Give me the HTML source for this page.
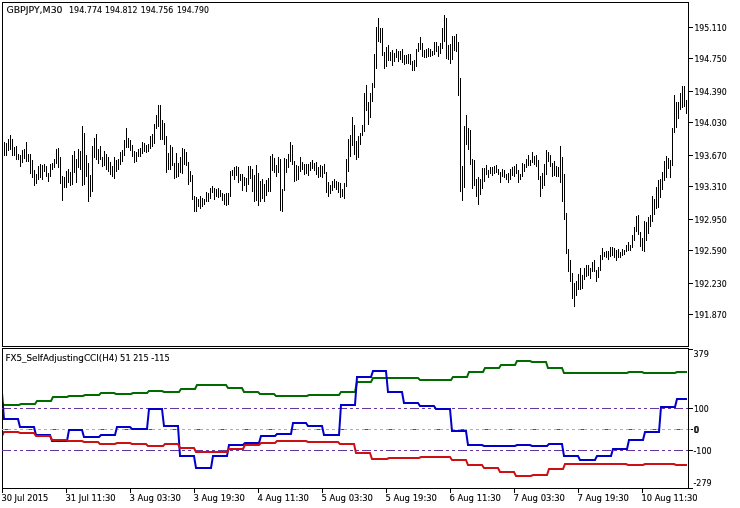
<!DOCTYPE html>
<html><head><meta charset="utf-8"><title>GBPJPY,M30</title>
<style>
html,body{margin:0;padding:0;background:#fff;width:740px;height:508px;overflow:hidden}
svg{display:block}
.t{font-family:'DejaVu Sans', 'Liberation Sans', sans-serif;font-size:9.2px;fill:#000;stroke:#000;stroke-width:0.12px}
</style></head><body>
<svg width="740" height="508" viewBox="0 0 740 508">
<rect width="740" height="508" fill="#fff"/>
<g fill="#000" shape-rendering="crispEdges"><rect x="2" y="2" width="687" height="1"/><rect x="2" y="346" width="687" height="1"/><rect x="2" y="2" width="1" height="345"/><rect x="688" y="2" width="1" height="345"/><rect x="2" y="348" width="687" height="1"/><rect x="2" y="488" width="687" height="1"/><rect x="2" y="348" width="1" height="141"/><rect x="688" y="348" width="1" height="141"/><rect x="689" y="27" width="4" height="1"/><rect x="689" y="58" width="4" height="1"/><rect x="689" y="91" width="4" height="1"/><rect x="689" y="122" width="4" height="1"/><rect x="689" y="155" width="4" height="1"/><rect x="689" y="186" width="4" height="1"/><rect x="689" y="219" width="4" height="1"/><rect x="689" y="250" width="4" height="1"/><rect x="689" y="283" width="4" height="1"/><rect x="689" y="314" width="4" height="1"/><rect x="689" y="349" width="4" height="1"/><rect x="689" y="408" width="4" height="1"/><rect x="689" y="450" width="4" height="1"/><rect x="689" y="488" width="4" height="1"/><rect x="691" y="429" width="2" height="1"/><rect x="689" y="429" width="2" height="1" fill="#b8b8b8"/><rect x="2" y="489" width="1" height="4"/><rect x="66" y="489" width="1" height="4"/><rect x="130" y="489" width="1" height="4"/><rect x="194" y="489" width="1" height="4"/><rect x="258" y="489" width="1" height="4"/><rect x="322" y="489" width="1" height="4"/><rect x="386" y="489" width="1" height="4"/><rect x="450" y="489" width="1" height="4"/><rect x="514" y="489" width="1" height="4"/><rect x="578" y="489" width="1" height="4"/><rect x="642" y="489" width="1" height="4"/><rect x="4" y="142" width="1" height="14"/><rect x="6" y="143" width="1" height="13"/><rect x="8" y="139" width="1" height="12"/><rect x="10" y="135" width="1" height="15"/><rect x="12" y="139" width="1" height="17"/><rect x="14" y="147" width="1" height="9"/><rect x="16" y="146" width="1" height="14"/><rect x="18" y="154" width="1" height="6"/><rect x="20" y="155" width="1" height="12"/><rect x="22" y="150" width="1" height="13"/><rect x="24" y="149" width="1" height="10"/><rect x="26" y="142" width="1" height="20"/><rect x="28" y="154" width="1" height="8"/><rect x="30" y="154" width="1" height="20"/><rect x="32" y="160" width="1" height="18"/><rect x="34" y="170" width="1" height="16"/><rect x="36" y="174" width="1" height="10"/><rect x="38" y="166" width="1" height="14"/><rect x="40" y="164" width="1" height="14"/><rect x="42" y="165" width="1" height="15"/><rect x="44" y="164" width="1" height="8"/><rect x="46" y="166" width="1" height="11"/><rect x="48" y="173" width="1" height="9"/><rect x="50" y="164" width="1" height="13"/><rect x="52" y="163" width="1" height="7"/><rect x="54" y="159" width="1" height="9"/><rect x="56" y="149" width="1" height="15"/><rect x="58" y="148" width="1" height="20"/><rect x="60" y="157" width="1" height="27"/><rect x="62" y="176" width="1" height="25"/><rect x="64" y="177" width="1" height="11"/><rect x="66" y="171" width="1" height="17"/><rect x="68" y="169" width="1" height="14"/><rect x="70" y="172" width="1" height="14"/><rect x="72" y="155" width="1" height="30"/><rect x="74" y="151" width="1" height="22"/><rect x="76" y="159" width="1" height="24"/><rect x="78" y="149" width="1" height="19"/><rect x="80" y="151" width="1" height="19"/><rect x="82" y="126" width="1" height="60"/><rect x="84" y="133" width="1" height="52"/><rect x="86" y="155" width="1" height="22"/><rect x="88" y="163" width="1" height="39"/><rect x="90" y="175" width="1" height="22"/><rect x="92" y="146" width="1" height="46"/><rect x="94" y="138" width="1" height="20"/><rect x="96" y="134" width="1" height="26"/><rect x="98" y="149" width="1" height="15"/><rect x="100" y="146" width="1" height="14"/><rect x="102" y="157" width="1" height="10"/><rect x="104" y="151" width="1" height="15"/><rect x="106" y="154" width="1" height="16"/><rect x="108" y="157" width="1" height="15"/><rect x="110" y="162" width="1" height="13"/><rect x="112" y="166" width="1" height="11"/><rect x="114" y="157" width="1" height="22"/><rect x="116" y="160" width="1" height="12"/><rect x="118" y="159" width="1" height="11"/><rect x="120" y="152" width="1" height="13"/><rect x="122" y="150" width="1" height="12"/><rect x="124" y="140" width="1" height="16"/><rect x="126" y="128" width="1" height="20"/><rect x="128" y="138" width="1" height="10"/><rect x="130" y="140" width="1" height="11"/><rect x="132" y="145" width="1" height="12"/><rect x="134" y="151" width="1" height="12"/><rect x="136" y="152" width="1" height="10"/><rect x="138" y="149" width="1" height="8"/><rect x="140" y="148" width="1" height="9"/><rect x="142" y="142" width="1" height="12"/><rect x="144" y="143" width="1" height="9"/><rect x="146" y="145" width="1" height="8"/><rect x="148" y="144" width="1" height="8"/><rect x="150" y="136" width="1" height="13"/><rect x="152" y="134" width="1" height="13"/><rect x="154" y="124" width="1" height="20"/><rect x="156" y="115" width="1" height="14"/><rect x="158" y="105" width="1" height="22"/><rect x="160" y="105" width="1" height="35"/><rect x="162" y="120" width="1" height="20"/><rect x="164" y="123" width="1" height="22"/><rect x="166" y="136" width="1" height="37"/><rect x="168" y="153" width="1" height="17"/><rect x="170" y="145" width="1" height="25"/><rect x="172" y="147" width="1" height="19"/><rect x="174" y="163" width="1" height="16"/><rect x="176" y="153" width="1" height="25"/><rect x="178" y="163" width="1" height="14"/><rect x="180" y="157" width="1" height="16"/><rect x="182" y="148" width="1" height="26"/><rect x="184" y="149" width="1" height="16"/><rect x="186" y="152" width="1" height="14"/><rect x="188" y="162" width="1" height="23"/><rect x="190" y="171" width="1" height="11"/><rect x="192" y="175" width="1" height="25"/><rect x="194" y="196" width="1" height="16"/><rect x="196" y="197" width="1" height="15"/><rect x="198" y="199" width="1" height="8"/><rect x="200" y="196" width="1" height="13"/><rect x="202" y="198" width="1" height="9"/><rect x="204" y="199" width="1" height="6"/><rect x="206" y="192" width="1" height="10"/><rect x="208" y="193" width="1" height="9"/><rect x="210" y="188" width="1" height="11"/><rect x="212" y="186" width="1" height="7"/><rect x="214" y="188" width="1" height="12"/><rect x="216" y="189" width="1" height="8"/><rect x="218" y="188" width="1" height="10"/><rect x="220" y="190" width="1" height="7"/><rect x="222" y="193" width="1" height="8"/><rect x="224" y="194" width="1" height="11"/><rect x="226" y="193" width="1" height="13"/><rect x="228" y="193" width="1" height="12"/><rect x="230" y="171" width="1" height="26"/><rect x="232" y="170" width="1" height="6"/><rect x="234" y="167" width="1" height="13"/><rect x="236" y="166" width="1" height="10"/><rect x="238" y="167" width="1" height="16"/><rect x="240" y="174" width="1" height="7"/><rect x="242" y="174" width="1" height="17"/><rect x="244" y="177" width="1" height="9"/><rect x="246" y="178" width="1" height="14"/><rect x="248" y="166" width="1" height="19"/><rect x="250" y="166" width="1" height="13"/><rect x="252" y="169" width="1" height="23"/><rect x="254" y="175" width="1" height="27"/><rect x="256" y="165" width="1" height="36"/><rect x="258" y="173" width="1" height="33"/><rect x="260" y="181" width="1" height="21"/><rect x="262" y="179" width="1" height="20"/><rect x="264" y="184" width="1" height="18"/><rect x="266" y="180" width="1" height="16"/><rect x="268" y="178" width="1" height="14"/><rect x="270" y="156" width="1" height="36"/><rect x="272" y="154" width="1" height="17"/><rect x="274" y="158" width="1" height="15"/><rect x="276" y="165" width="1" height="12"/><rect x="278" y="157" width="1" height="16"/><rect x="280" y="159" width="1" height="52"/><rect x="282" y="189" width="1" height="23"/><rect x="284" y="158" width="1" height="33"/><rect x="286" y="159" width="1" height="14"/><rect x="288" y="154" width="1" height="14"/><rect x="290" y="142" width="1" height="20"/><rect x="292" y="145" width="1" height="20"/><rect x="294" y="161" width="1" height="21"/><rect x="296" y="165" width="1" height="16"/><rect x="298" y="166" width="1" height="14"/><rect x="300" y="157" width="1" height="15"/><rect x="302" y="162" width="1" height="8"/><rect x="304" y="164" width="1" height="11"/><rect x="306" y="164" width="1" height="10"/><rect x="308" y="164" width="1" height="12"/><rect x="310" y="162" width="1" height="9"/><rect x="312" y="160" width="1" height="9"/><rect x="314" y="163" width="1" height="8"/><rect x="316" y="162" width="1" height="13"/><rect x="318" y="167" width="1" height="11"/><rect x="320" y="165" width="1" height="12"/><rect x="322" y="166" width="1" height="12"/><rect x="324" y="164" width="1" height="10"/><rect x="326" y="172" width="1" height="21"/><rect x="328" y="182" width="1" height="15"/><rect x="330" y="185" width="1" height="9"/><rect x="332" y="181" width="1" height="10"/><rect x="334" y="179" width="1" height="9"/><rect x="336" y="181" width="1" height="9"/><rect x="338" y="182" width="1" height="11"/><rect x="340" y="183" width="1" height="15"/><rect x="342" y="189" width="1" height="8"/><rect x="344" y="183" width="1" height="16"/><rect x="346" y="159" width="1" height="28"/><rect x="348" y="139" width="1" height="33"/><rect x="350" y="135" width="1" height="22"/><rect x="352" y="117" width="1" height="29"/><rect x="354" y="125" width="1" height="30"/><rect x="356" y="141" width="1" height="19"/><rect x="358" y="136" width="1" height="22"/><rect x="360" y="133" width="1" height="12"/><rect x="362" y="125" width="1" height="11"/><rect x="364" y="93" width="1" height="39"/><rect x="366" y="85" width="1" height="26"/><rect x="368" y="102" width="1" height="23"/><rect x="370" y="93" width="1" height="25"/><rect x="372" y="83" width="1" height="19"/><rect x="374" y="54" width="1" height="34"/><rect x="376" y="27" width="1" height="42"/><rect x="378" y="18" width="1" height="24"/><rect x="380" y="28" width="1" height="15"/><rect x="382" y="28" width="1" height="28"/><rect x="384" y="52" width="1" height="17"/><rect x="386" y="47" width="1" height="20"/><rect x="388" y="45" width="1" height="16"/><rect x="390" y="52" width="1" height="9"/><rect x="392" y="50" width="1" height="16"/><rect x="394" y="53" width="1" height="9"/><rect x="396" y="49" width="1" height="9"/><rect x="398" y="51" width="1" height="11"/><rect x="400" y="51" width="1" height="9"/><rect x="402" y="49" width="1" height="14"/><rect x="404" y="55" width="1" height="10"/><rect x="406" y="55" width="1" height="9"/><rect x="408" y="54" width="1" height="10"/><rect x="410" y="54" width="1" height="11"/><rect x="412" y="61" width="1" height="10"/><rect x="414" y="60" width="1" height="11"/><rect x="416" y="49" width="1" height="18"/><rect x="418" y="43" width="1" height="9"/><rect x="420" y="37" width="1" height="13"/><rect x="422" y="43" width="1" height="14"/><rect x="424" y="50" width="1" height="8"/><rect x="426" y="49" width="1" height="9"/><rect x="428" y="48" width="1" height="9"/><rect x="430" y="49" width="1" height="8"/><rect x="432" y="51" width="1" height="5"/><rect x="434" y="42" width="1" height="13"/><rect x="436" y="42" width="1" height="10"/><rect x="438" y="46" width="1" height="11"/><rect x="440" y="43" width="1" height="11"/><rect x="442" y="28" width="1" height="21"/><rect x="444" y="15" width="1" height="27"/><rect x="446" y="18" width="1" height="41"/><rect x="448" y="45" width="1" height="15"/><rect x="450" y="44" width="1" height="20"/><rect x="452" y="36" width="1" height="24"/><rect x="454" y="36" width="1" height="15"/><rect x="456" y="34" width="1" height="18"/><rect x="458" y="42" width="1" height="54"/><rect x="460" y="78" width="1" height="114"/><rect x="462" y="166" width="1" height="35"/><rect x="464" y="126" width="1" height="62"/><rect x="466" y="115" width="1" height="30"/><rect x="468" y="128" width="1" height="22"/><rect x="470" y="130" width="1" height="35"/><rect x="472" y="159" width="1" height="30"/><rect x="474" y="160" width="1" height="26"/><rect x="476" y="179" width="1" height="18"/><rect x="478" y="177" width="1" height="28"/><rect x="480" y="179" width="1" height="16"/><rect x="482" y="168" width="1" height="21"/><rect x="484" y="168" width="1" height="14"/><rect x="486" y="165" width="1" height="10"/><rect x="488" y="170" width="1" height="8"/><rect x="490" y="167" width="1" height="7"/><rect x="492" y="167" width="1" height="9"/><rect x="494" y="166" width="1" height="8"/><rect x="496" y="165" width="1" height="8"/><rect x="498" y="169" width="1" height="6"/><rect x="500" y="172" width="1" height="11"/><rect x="502" y="169" width="1" height="8"/><rect x="504" y="170" width="1" height="8"/><rect x="506" y="174" width="1" height="6"/><rect x="508" y="173" width="1" height="10"/><rect x="510" y="169" width="1" height="11"/><rect x="512" y="167" width="1" height="9"/><rect x="514" y="166" width="1" height="11"/><rect x="516" y="164" width="1" height="10"/><rect x="518" y="170" width="1" height="13"/><rect x="520" y="174" width="1" height="6"/><rect x="522" y="163" width="1" height="14"/><rect x="524" y="164" width="1" height="8"/><rect x="526" y="159" width="1" height="9"/><rect x="528" y="155" width="1" height="11"/><rect x="530" y="160" width="1" height="6"/><rect x="532" y="152" width="1" height="11"/><rect x="534" y="156" width="1" height="9"/><rect x="536" y="155" width="1" height="12"/><rect x="538" y="160" width="1" height="20"/><rect x="540" y="176" width="1" height="21"/><rect x="542" y="173" width="1" height="16"/><rect x="544" y="164" width="1" height="22"/><rect x="546" y="150" width="1" height="25"/><rect x="548" y="152" width="1" height="10"/><rect x="550" y="155" width="1" height="12"/><rect x="552" y="163" width="1" height="14"/><rect x="554" y="161" width="1" height="15"/><rect x="556" y="166" width="1" height="11"/><rect x="558" y="167" width="1" height="10"/><rect x="560" y="146" width="1" height="37"/><rect x="562" y="157" width="1" height="45"/><rect x="564" y="174" width="1" height="46"/><rect x="566" y="213" width="1" height="41"/><rect x="568" y="249" width="1" height="23"/><rect x="570" y="260" width="1" height="22"/><rect x="572" y="273" width="1" height="26"/><rect x="574" y="283" width="1" height="24"/><rect x="576" y="281" width="1" height="15"/><rect x="578" y="274" width="1" height="16"/><rect x="580" y="268" width="1" height="22"/><rect x="582" y="275" width="1" height="14"/><rect x="584" y="268" width="1" height="12"/><rect x="586" y="265" width="1" height="12"/><rect x="588" y="265" width="1" height="11"/><rect x="590" y="268" width="1" height="11"/><rect x="592" y="262" width="1" height="10"/><rect x="594" y="260" width="1" height="12"/><rect x="596" y="270" width="1" height="12"/><rect x="598" y="267" width="1" height="11"/><rect x="600" y="255" width="1" height="16"/><rect x="602" y="248" width="1" height="12"/><rect x="604" y="252" width="1" height="5"/><rect x="606" y="251" width="1" height="7"/><rect x="608" y="251" width="1" height="9"/><rect x="610" y="247" width="1" height="10"/><rect x="612" y="247" width="1" height="9"/><rect x="614" y="248" width="1" height="10"/><rect x="616" y="250" width="1" height="11"/><rect x="618" y="249" width="1" height="9"/><rect x="620" y="252" width="1" height="6"/><rect x="622" y="249" width="1" height="7"/><rect x="624" y="250" width="1" height="5"/><rect x="626" y="245" width="1" height="7"/><rect x="628" y="242" width="1" height="9"/><rect x="630" y="245" width="1" height="6"/><rect x="632" y="235" width="1" height="13"/><rect x="634" y="227" width="1" height="14"/><rect x="636" y="216" width="1" height="16"/><rect x="638" y="215" width="1" height="20"/><rect x="640" y="232" width="1" height="15"/><rect x="642" y="238" width="1" height="13"/><rect x="644" y="221" width="1" height="31"/><rect x="646" y="222" width="1" height="19"/><rect x="648" y="217" width="1" height="17"/><rect x="650" y="215" width="1" height="12"/><rect x="652" y="196" width="1" height="26"/><rect x="654" y="199" width="1" height="16"/><rect x="656" y="187" width="1" height="22"/><rect x="658" y="180" width="1" height="28"/><rect x="660" y="179" width="1" height="19"/><rect x="662" y="172" width="1" height="18"/><rect x="664" y="161" width="1" height="20"/><rect x="666" y="156" width="1" height="22"/><rect x="668" y="158" width="1" height="11"/><rect x="670" y="160" width="1" height="18"/><rect x="672" y="128" width="1" height="38"/><rect x="674" y="95" width="1" height="38"/><rect x="676" y="102" width="1" height="26"/><rect x="678" y="102" width="1" height="17"/><rect x="680" y="93" width="1" height="17"/><rect x="682" y="86" width="1" height="22"/><rect x="684" y="86" width="1" height="21"/><rect x="686" y="100" width="1" height="14"/></g>
<g shape-rendering="crispEdges" stroke-width="1" fill="none"><line x1="2" y1="408.5" x2="688" y2="408.5" stroke="#6438a0" stroke-dasharray="9 3 3 3 3 3"/><line x1="2" y1="450.5" x2="688" y2="450.5" stroke="#6438a0" stroke-dasharray="9 3 3 3 3 3"/><line x1="2" y1="429.5" x2="688" y2="429.5" stroke="#b0b0b0" stroke-dasharray="9 3 3 3 3 3"/><line x1="5" y1="429.5" x2="688" y2="429.5" stroke="#6438a0" stroke-dasharray="3 21"/></g>
<svg x="3" y="349" width="685" height="139" viewBox="3 349 685 139" overflow="hidden"><polyline points="2,403 4,405 19,405 21,404 35,404 37,401 51,401 53,397 67,397 69,396 83,396 85,395 99,395 101,393 114,393 116,394 131,394 133,393 147,393 149,391 162,391 164,392 179,392 181,389 195,389 197,385 210,385 212,385 226,385 228,388 242,388 244,392 258,392 260,394 274,394 276,396 290,396 292,396 307,396 309,395 322,395 324,395 339,395 341,392 355,392 357,382 371,382 373,378 386,378 388,378 402,378 404,378 418,378 420,380 434,380 436,380 451,380 453,377 467,377 469,372 483,372 485,368 499,368 501,365 515,365 517,361 530,361 532,362 546,362 548,368 562,368 564,373 578,373 580,373 594,373 596,373 610,373 612,373 627,373 629,372 642,372 644,373 658,373 660,373 675,373 677,372 687,372" fill="none" stroke="#006c00" stroke-width="2" stroke-linejoin="miter" stroke-linecap="butt"/><polyline points="2,393 4,419 18,419 20,427 34,427 36,435 50,435 52,441 67,441 69,430 82,430 84,437 99,437 101,435 115,435 117,427 130,427 132,429 147,429 149,409 162,409 164,426 178,426 180,456 194,456 196,468 211,468 213,456 227,456 229,445 243,445 245,443 259,443 261,436 275,436 277,434 291,434 293,423 306,423 308,426 322,426 324,435 339,435 341,405 355,405 357,377 371,377 373,371 386,371 388,392 402,392 404,403 418,403 420,406 434,406 436,409 450,409 452,431 466,431 468,445 482,445 484,446 498,446 500,446 515,446 517,445 530,445 532,446 547,446 549,444 562,444 564,456 578,456 580,460 595,460 597,456 611,456 613,449 627,449 629,440 643,440 645,432 659,432 661,407 675,407 677,399 687,399" fill="none" stroke="#0000c8" stroke-width="2" stroke-linejoin="miter" stroke-linecap="butt"/><polyline points="2,436 4,432 18,432 20,433 34,433 36,436 50,436 52,440 66,440 68,441 82,441 84,442 98,442 100,444 115,444 117,443 130,443 132,444 146,444 148,446 163,446 165,444 178,444 180,448 194,448 196,452 210,452 212,452 227,452 229,449 243,449 245,445 259,445 261,443 275,443 277,441 290,441 292,441 306,441 308,442 322,442 324,442 338,442 340,444 354,444 356,453 370,453 372,459 387,459 389,458 402,458 404,458 419,458 421,457 434,457 436,457 450,457 452,460 466,460 468,465 482,465 484,468 498,468 500,472 514,472 516,476 531,476 533,475 547,475 549,469 563,469 565,464 578,464 580,464 594,464 596,464 610,464 612,464 626,464 628,465 643,465 645,464 658,464 660,464 674,464 676,465 687,465" fill="none" stroke="#cc1014" stroke-width="2" stroke-linejoin="miter" stroke-linecap="butt"/></svg>
<text class="t" x="6.40" y="13" textLength="56.20" lengthAdjust="spacingAndGlyphs">GBPJPY,M30</text><text class="t" x="69.00" y="13" textLength="33.10" lengthAdjust="spacingAndGlyphs">194.774</text><text class="t" x="105.10" y="13" textLength="32.50" lengthAdjust="spacingAndGlyphs">194.812</text><text class="t" x="140.70" y="13" textLength="32.50" lengthAdjust="spacingAndGlyphs">194.756</text><text class="t" x="176.90" y="13" textLength="32.00" lengthAdjust="spacingAndGlyphs">194.790</text><text class="t" x="694.40" y="31" textLength="32.20" lengthAdjust="spacingAndGlyphs">195.110</text><text class="t" x="694.40" y="62" textLength="32.20" lengthAdjust="spacingAndGlyphs">194.750</text><text class="t" x="694.40" y="95" textLength="32.20" lengthAdjust="spacingAndGlyphs">194.390</text><text class="t" x="694.40" y="126" textLength="32.20" lengthAdjust="spacingAndGlyphs">194.030</text><text class="t" x="694.40" y="159" textLength="32.20" lengthAdjust="spacingAndGlyphs">193.670</text><text class="t" x="694.40" y="190" textLength="32.20" lengthAdjust="spacingAndGlyphs">193.310</text><text class="t" x="694.40" y="223" textLength="32.20" lengthAdjust="spacingAndGlyphs">192.950</text><text class="t" x="694.40" y="254" textLength="32.20" lengthAdjust="spacingAndGlyphs">192.590</text><text class="t" x="694.40" y="287" textLength="32.20" lengthAdjust="spacingAndGlyphs">192.230</text><text class="t" x="694.40" y="318" textLength="32.20" lengthAdjust="spacingAndGlyphs">191.870</text><text class="t" x="693.40" y="357" textLength="15.40" lengthAdjust="spacingAndGlyphs">379</text><text class="t" x="693.90" y="412" textLength="14.80" lengthAdjust="spacingAndGlyphs">100</text><text class="t" x="693.40" y="433" textLength="4.80" lengthAdjust="spacingAndGlyphs">0</text><text class="t" x="694.40" y="433" textLength="4.80" lengthAdjust="spacingAndGlyphs">0</text><text class="t" x="693.40" y="454" textLength="18.20" lengthAdjust="spacingAndGlyphs">-100</text><text class="t" x="693.40" y="486" textLength="18.20" lengthAdjust="spacingAndGlyphs">-279</text><text class="t" x="5.40" y="361" textLength="112.40" lengthAdjust="spacingAndGlyphs">FX5_SelfAdjustingCCI(H4)</text><text class="t" x="120.10" y="361" textLength="10.60" lengthAdjust="spacingAndGlyphs">51</text><text class="t" x="133.20" y="361" textLength="15.40" lengthAdjust="spacingAndGlyphs">215</text><text class="t" x="151.20" y="361" textLength="18.60" lengthAdjust="spacingAndGlyphs">-115</text><text class="t" x="1.40" y="501" textLength="47.00" lengthAdjust="spacingAndGlyphs">30 Jul 2015</text><text class="t" x="65.40" y="501" textLength="50.30" lengthAdjust="spacingAndGlyphs">31 Jul 11:30</text><text class="t" x="129.40" y="501" textLength="51.60" lengthAdjust="spacingAndGlyphs">3 Aug 03:30</text><text class="t" x="193.40" y="501" textLength="51.60" lengthAdjust="spacingAndGlyphs">3 Aug 19:30</text><text class="t" x="257.40" y="501" textLength="51.60" lengthAdjust="spacingAndGlyphs">4 Aug 11:30</text><text class="t" x="321.40" y="501" textLength="51.60" lengthAdjust="spacingAndGlyphs">5 Aug 03:30</text><text class="t" x="385.40" y="501" textLength="51.60" lengthAdjust="spacingAndGlyphs">5 Aug 19:30</text><text class="t" x="449.40" y="501" textLength="51.60" lengthAdjust="spacingAndGlyphs">6 Aug 11:30</text><text class="t" x="513.40" y="501" textLength="51.60" lengthAdjust="spacingAndGlyphs">7 Aug 03:30</text><text class="t" x="577.40" y="501" textLength="51.60" lengthAdjust="spacingAndGlyphs">7 Aug 19:30</text><text class="t" x="641.40" y="501" textLength="56.20" lengthAdjust="spacingAndGlyphs">10 Aug 11:30</text>
</svg>
</body></html>
